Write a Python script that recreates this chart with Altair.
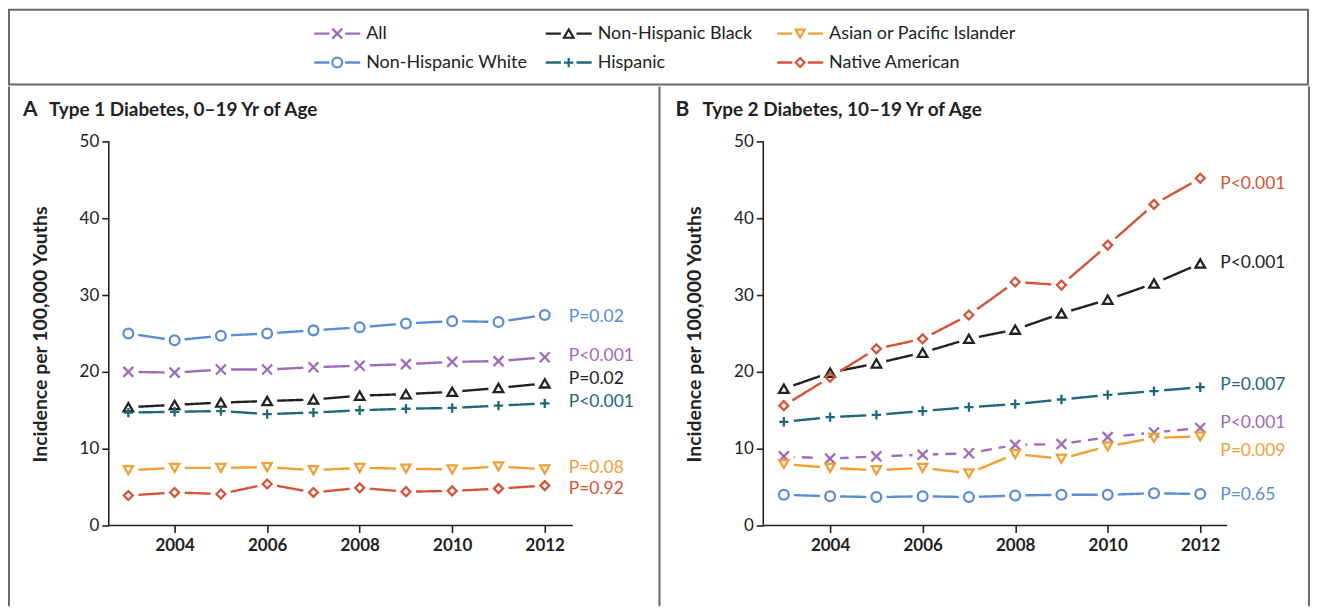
import altair as alt
import pandas as pd

years = list(range(2003, 2013))
series = ["All", "Non-Hispanic White", "Non-Hispanic Black", "Hispanic",
          "Asian or Pacific Islander", "Native American"]
colors = ["#9e6cb8", "#5b8dd3", "#222222", "#1e687b", "#f0a035", "#d4543a"]
XPATH = "M-1,-1L1,1M1,-1L-1,1"
PLUS = "M-1,0L1,0M0,-1L0,1"
shapes = [XPATH, "circle", "triangle-up", PLUS, "triangle-down", "diamond"]
sizes = [125, 115, 200, 190, 200, 185]

# Panel A: Type 1 diabetes, 0-19 yr
t1_all = [20.0, 19.9, 20.3, 20.3, 20.6, 20.8, 21.0, 21.3, 21.4, 21.9]
t1_white = [25.0, 24.1, 24.7, 25.0, 25.4, 25.8, 26.3, 26.6, 26.5, 27.4]
t1_black = [15.4, 15.7, 16.0, 16.2, 16.4, 16.9, 17.1, 17.4, 17.9, 18.5]
t1_hisp = [14.7, 14.8, 14.9, 14.5, 14.7, 15.0, 15.2, 15.3, 15.6, 15.9]
t1_asian = [7.2, 7.5, 7.5, 7.6, 7.2, 7.5, 7.4, 7.3, 7.7, 7.3]
t1_native = [3.9, 4.3, 4.1, 5.4, 4.3, 4.9, 4.4, 4.5, 4.8, 5.2]
t1_ptext = ["P<0.001", "P=0.02", "P=0.02", "P<0.001", "P=0.08", "P=0.92"]
t1_plabel_y = [22.1, 27.1, 19.1, 16.1, 7.5, 4.8]

# Panel B: Type 2 diabetes, 10-19 yr
t2_all = [9.0, 8.7, 9.0, 9.2, 9.4, 10.5, 10.6, 11.5, 12.1, 12.7]
t2_white = [4.0, 3.8, 3.7, 3.8, 3.7, 3.9, 4.0, 4.0, 4.2, 4.1]
t2_black = [17.8, 19.9, 21.1, 22.5, 24.3, 25.5, 27.6, 29.4, 31.5, 34.1]
t2_hisp = [13.5, 14.1, 14.4, 14.9, 15.4, 15.8, 16.4, 17.0, 17.5, 18.0]
t2_asian = [8.0, 7.5, 7.2, 7.5, 6.8, 9.3, 8.7, 10.3, 11.4, 11.6]
t2_native = [15.6, 19.3, 23.0, 24.3, 27.4, 31.7, 31.3, 36.5, 41.8, 45.2]
t2_ptext = ["P<0.001", "P=0.65", "P<0.001", "P=0.007", "P=0.009", "P<0.001"]
t2_plabel_y = [13.4, 4.0, 34.2, 18.3, 9.7, 44.4]

legend_col = [0, 0, 1, 1, 2, 2]
legend_row = [0, 1, 0, 1, 0, 1]
legend_order = ["All", "Non-Hispanic White", "Non-Hispanic Black", "Hispanic",
                "Asian or Pacific Islander", "Native American"]

FONT = "Lato"
FRAME = "#6a6a6a"
TOTAL_W = 1302
LEG_H = 75
PANEL_H = 521

color_scale = alt.Scale(domain=series, range=colors)
shape_scale = alt.Scale(domain=series, range=shapes)
size_scale = alt.Scale(domain=series, range=sizes)


def long_df(vals, dashed):
    rows = []
    for s, v in zip(series, vals):
        for yr, val in zip(years, v):
            rows.append({"series": s, "year": yr, "value": val,
                         "dash": "dash" if (dashed and s == "All") else "solid"})
    return pd.DataFrame(rows)


def panel(vals, ptext, plabel_y, dashed, width, axis_px, x2004, x2012, axis_end,
          letter, title, letter_x, title_x, label_dx, left_edge):
    H = PANEL_H
    zero_px, fifty_px = 440, 55
    per_year = (x2012 - x2004) / 8.0
    d0 = 2004 - x2004 / per_year
    d1 = d0 + width / per_year
    per_unit = (zero_px - fifty_px) / 50.0
    ytop = 50 + fifty_px / per_unit
    ybot = -(H - zero_px) / per_unit
    xs = alt.Scale(domain=[d0, d1], nice=False, zero=False)
    ys = alt.Scale(domain=[ybot, ytop], nice=False, zero=False)
    x_left = d0 + axis_px / per_year
    x_right = d0 + axis_end / per_year

    xaxis = alt.Axis(values=[2004, 2006, 2008, 2010, 2012], format="d",
                     offset=-(H - zero_px), domain=False, grid=False,
                     tickSize=7, tickColor="#222", tickWidth=1.6,
                     labelFont=FONT, labelFontSize=17, labelFontWeight="bold",
                     labelColor="#222", labelPadding=5, title=None)
    yaxis = alt.Axis(values=[0, 10, 20, 30, 40, 50], offset=-axis_px,
                     domain=False, grid=False, tickSize=7, tickColor="#222",
                     tickWidth=1.6, labelFont=FONT, labelFontSize=17,
                     labelColor="#222", labelPadding=3,
                     title="Incidence per 100,000 Youths",
                     titleFont=FONT, titleFontSize=19.5, titleFontWeight="bold",
                     titleColor="#222", titlePadding=29, titleY=248)

    def X(field):
        return alt.X(field, scale=xs, axis=xaxis)

    def Y(field):
        return alt.Y(field, scale=ys, axis=yaxis)

    df = long_df(vals, dashed)
    lab = pd.DataFrame({"series": series, "year": [2012] * 6,
                        "value": plabel_y, "text": ptext})

    base = alt.Chart(df)
    lines = base.mark_line(strokeWidth=2.4).encode(
        x=X("year:Q"), y=Y("value:Q"),
        color=alt.Color("series:N", scale=color_scale, legend=None),
        strokeDash=alt.StrokeDash("dash:N", scale=alt.Scale(domain=["solid", "dash"],
                                  range=[[1, 0], [11, 7]]), legend=None),
        detail="series:N",
    )
    halo = base.mark_circle(color="white", opacity=1, size=420).encode(
        x=X("year:Q"), y=Y("value:Q"))
    marks = base.mark_point(filled=False, strokeWidth=2.3, opacity=1).encode(
        x=X("year:Q"), y=Y("value:Q"),
        color=alt.Color("series:N", scale=color_scale, legend=None),
        shape=alt.Shape("series:N", scale=shape_scale, legend=None),
        size=alt.Size("series:N", scale=size_scale, legend=None),
    )
    plabels = alt.Chart(lab).mark_text(align="left", baseline="middle", dx=label_dx,
                                       font=FONT, fontSize=17.5).encode(
        x=X("year:Q"), y=Y("value:Q"),
        text="text:N",
        color=alt.Color("series:N", scale=color_scale, legend=None),
    )
    one = alt.Chart(pd.DataFrame({"k": [0]}))
    xaxis_line = one.mark_rule(color="#222", strokeWidth=1.6).encode(
        x=X("x0:Q"), x2="x1:Q", y=Y("y0:Q"),
    ).transform_calculate(x0=str(x_left), x1=str(x_right), y0="0")
    yaxis_line = one.mark_rule(color="#222", strokeWidth=1.6).encode(
        x=X("x0:Q"), y=Y("y0:Q"), y2="y1:Q",
    ).transform_calculate(x0=str(x_left), y0="0", y1="50")
    letter_t = one.mark_text(align="left", baseline="middle", font=FONT, fontSize=21,
                             fontWeight="bold", color="#222").encode(
        x=alt.value(letter_x), y=alt.value(24), text=alt.value(letter))
    title_t = one.mark_text(align="left", baseline="middle", font=FONT, fontSize=19,
                            fontWeight="bold", color="#222").encode(
        x=alt.value(title_x), y=alt.value(24), text=alt.value(title))
    right_rule = one.mark_rule(color=FRAME, strokeWidth=2).encode(
        x=alt.value(width), y=alt.value(0), y2=alt.value(H))
    layers = [lines, halo, marks, plabels, xaxis_line, yaxis_line, letter_t, title_t,
              right_rule]
    if left_edge:
        layers.append(one.mark_rule(color=FRAME, strokeWidth=2).encode(
            x=alt.value(0), y=alt.value(0), y2=alt.value(H)))
    return alt.layer(*layers).properties(width=width, height=H)


panel_a = panel([t1_all, t1_white, t1_black, t1_hisp, t1_asian, t1_native],
                t1_ptext, t1_plabel_y, False, 652, 100, 166, 537, 565,
                "A", "Type 1 Diabetes, 0\u201319 Yr of Age", 14, 40, 24, True)
panel_b = panel([t2_all, t2_white, t2_black, t2_hisp, t2_asian, t2_native],
                t2_ptext, t2_plabel_y, True, 650, 103, 170, 541, 568,
                "B", "Type 2 Diabetes, 10\u201319 Yr of Age", 15, 42, 20, False)

# Legend
leg_df = pd.DataFrame({"series": legend_order, "col": legend_col, "row": legend_row})
col_px0, col_step = 329, 232
row_px0, row_step = 24, 29
lxs = alt.Scale(domain=[-col_px0 / col_step, (TOTAL_W - col_px0) / col_step],
                range=[0, TOTAL_W], nice=False, zero=False)
lys = alt.Scale(domain=[-row_px0 / row_step, (LEG_H - row_px0) / row_step],
                range=[0, LEG_H], nice=False, zero=False)
lbase = alt.Chart(leg_df)
lx = alt.X("col:Q", scale=lxs, axis=None)
ly = alt.Y("row:Q", scale=lys, axis=None)
l_line = lbase.mark_rule(strokeWidth=2.4, xOffset=-23, x2Offset=23).encode(
    x=lx, x2="col:Q", y=ly,
    color=alt.Color("series:N", scale=color_scale, legend=None))
l_halo = lbase.mark_circle(color="white", opacity=1, size=250).encode(x=lx, y=ly)
l_mark = lbase.mark_point(filled=False, strokeWidth=2.2, opacity=1).encode(
    x=lx, y=ly,
    color=alt.Color("series:N", scale=color_scale, legend=None),
    shape=alt.Shape("series:N", scale=shape_scale, legend=None),
    size=alt.Size("series:N", scale=alt.Scale(domain=series,
                  range=[100, 80, 150, 160, 150, 130]), legend=None))
l_text = lbase.mark_text(align="left", baseline="middle", dx=29, font=FONT,
                         fontSize=18, color="#222").encode(x=lx, y=ly, text="series:N")
legend = alt.layer(l_line, l_halo, l_mark, l_text).properties(
    width=TOTAL_W, height=LEG_H,
    view=alt.ViewBackground(stroke=FRAME, strokeWidth=2))

chart = alt.vconcat(
    legend,
    alt.hconcat(panel_a, panel_b, spacing=0),
    spacing=0,
).properties(padding=0).configure_view(stroke=None)

chart.save("out.html", embed_options={"renderer": "svg", "actions": False})
